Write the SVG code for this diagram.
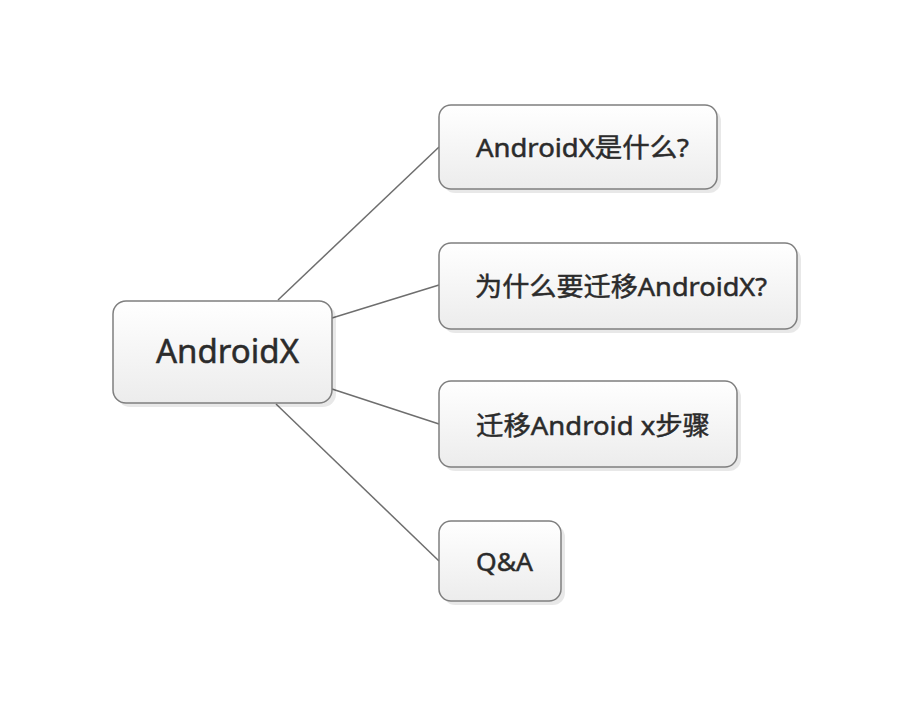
<svg xmlns="http://www.w3.org/2000/svg" width="914" height="706" viewBox="0 0 914 706">
<style>
.box{fill:url(#g);stroke:#7f7f7f;stroke-width:1.5}
.sh{fill:#000;opacity:0.09}
.t{font-family:"Noto Sans","Noto Sans CJK SC",sans-serif;fill:#2b2b2b;stroke:#2b2b2b;stroke-width:0.5}
.c{stroke:#6e6e6e;stroke-width:1.5;fill:none}
</style>
<defs>
<linearGradient id="g" x1="0" y1="0" x2="0" y2="1">
<stop offset="0" stop-color="#ffffff"/>
<stop offset="1" stop-color="#ececec"/>
</linearGradient>
</defs>
<rect width="914" height="706" fill="#fff"/>
<g id="connectors">
<line class="c" x1="278" y1="300" x2="439" y2="147"/>
<line class="c" x1="332" y1="318" x2="439" y2="285"/>
<line class="c" x1="332" y1="389" x2="439" y2="424"/>
<line class="c" x1="276" y1="404" x2="439" y2="561"/>
</g>
<g id="root">
<rect class="sh" x="117" y="305" width="219" height="102" rx="13"/>
<rect class="box" x="113" y="301" width="219" height="102" rx="13"/>
<text class="t" x="156" y="363" font-size="33" textLength="143" lengthAdjust="spacingAndGlyphs">AndroidX</text>
</g>
<g id="n1">
<rect class="sh" x="443" y="109" width="278" height="84" rx="12"/>
<rect class="box" x="439" y="105" width="278" height="84" rx="12"/>
<text class="t" x="476" y="157" font-size="26" textLength="213" lengthAdjust="spacingAndGlyphs">AndroidX是什么?</text>
</g>
<g id="n2">
<rect class="sh" x="443" y="247" width="358" height="86" rx="12"/>
<rect class="box" x="439" y="243" width="358" height="86" rx="12"/>
<text class="t" x="475" y="296" font-size="26" textLength="292" lengthAdjust="spacingAndGlyphs">为什么要迁移AndroidX?</text>
</g>
<g id="n3">
<rect class="sh" x="443" y="385" width="298" height="86" rx="12"/>
<rect class="box" x="439" y="381" width="298" height="86" rx="12"/>
<text class="t" x="476" y="435" font-size="26" textLength="234" lengthAdjust="spacingAndGlyphs">迁移Android x步骤</text>
</g>
<g id="n4">
<rect class="sh" x="443" y="525" width="122" height="80" rx="12"/>
<rect class="box" x="439" y="521" width="122" height="80" rx="12"/>
<text class="t" x="476" y="571" font-size="26" textLength="57" lengthAdjust="spacingAndGlyphs">Q&amp;A</text>
</g>
</svg>
